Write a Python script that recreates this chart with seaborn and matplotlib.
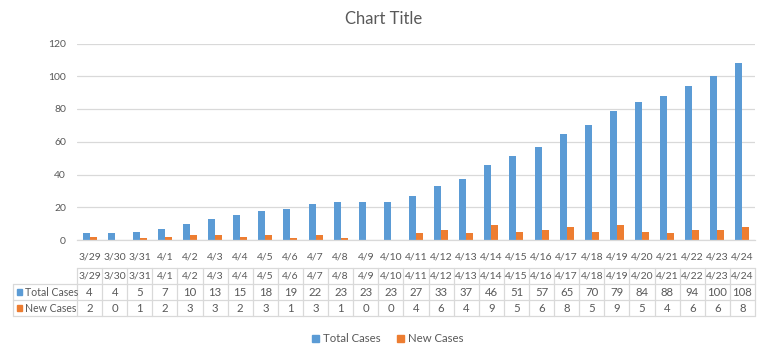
import numpy as np
import pandas as pd
import matplotlib
matplotlib.use("Agg")
import matplotlib.pyplot as plt
import seaborn as sns
from matplotlib.patches import Rectangle

dates = ["3/29", "3/30", "3/31", "4/1", "4/2", "4/3", "4/4", "4/5", "4/6", "4/7",
         "4/8", "4/9", "4/10", "4/11", "4/12", "4/13", "4/14", "4/15", "4/16", "4/17",
         "4/18", "4/19", "4/20", "4/21", "4/22", "4/23", "4/24"]
total_cases = [4, 4, 5, 7, 10, 13, 15, 18, 19, 22, 23, 23, 23, 27, 33, 37, 46, 51,
               57, 65, 70, 79, 84, 88, 94, 100, 108]
new_cases = [2, 0, 1, 2, 3, 3, 2, 3, 1, 3, 1, 0, 0, 4, 6, 4, 9, 5, 6, 8, 5, 9, 5,
             4, 6, 6, 8]
series_names = ["Total Cases", "New Cases"]
colors = ["#5B9BD5", "#ED7D31"]
y_ticks = [0, 20, 40, 60, 80, 100, 120]

sns.set_theme(style="white")
plt.rcParams["font.family"] = ["Lato", "DejaVu Sans"]

TXT = "#595959"
GRID = "#D9D9D9"
FS = 8.2
FSD = 7.5

W, H = 768, 356
fig = plt.figure(figsize=(W / 100, H / 100), dpi=100)

def px_rect(x0, y0, x1, y1):
    return [x0 / W, 1 - y1 / H, (x1 - x0) / W, (y1 - y0) / H]

# main plot area
ax = fig.add_axes(px_rect(77, 43.5, 755, 240))
df = pd.DataFrame({
    "date": dates * 2,
    "value": total_cases + new_cases,
    "series": [series_names[0]] * len(dates) + [series_names[1]] * len(dates),
})
sns.barplot(data=df, x="date", y="value", hue="series", order=dates,
            hue_order=series_names, palette=colors, width=0.56, ax=ax,
            legend=False, saturation=1, linewidth=0)
n = len(dates)
ax.set_xlim(-0.5, n - 0.5)
ax.set_ylim(0, 120)
ax.set_yticks(y_ticks)
ax.yaxis.grid(True, color=GRID, linewidth=0.9)
ax.set_axisbelow(True)
for s in ["top", "right", "left"]:
    ax.spines[s].set_visible(False)
ax.spines["bottom"].set_color(GRID)
ax.spines["bottom"].set_linewidth(0.9)
ax.set_xlabel("")
ax.set_ylabel("")
ax.tick_params(axis="y", length=0, labelsize=FSD, labelcolor=TXT, pad=8)
ax.set_xticks(range(n))
ax.set_xticklabels(dates)
ax.tick_params(axis="x", which="major", length=0, labelsize=FSD,
               labelcolor=TXT, pad=9)
ax.set_xticks(np.arange(-0.5, n, 1.0), minor=True)
ax.tick_params(axis="x", which="minor", length=3.6, color=GRID, width=0.9)

fig.text(384 / W, 1 - 19 / H, "Chart Title", ha="center", va="center",
         fontsize=12, color=TXT)

# data table
lab_units = (77 - 12.7) / ((755 - 77) / n)
tax = fig.add_axes(px_rect(12.7, 268, 755, 316))
tax.set_xlim(-0.5 - lab_units, n - 0.5)
tax.set_ylim(3, 0)
tax.axis("off")
lc = dict(color=GRID, linewidth=0.9, clip_on=False)
tax.plot([-0.5, n - 0.5], [0, 0], **lc)
tax.plot([-0.5 - lab_units, n - 0.5], [1, 1], **lc)
tax.plot([-0.5 - lab_units, n - 0.5], [2, 2], **lc)
tax.plot([-0.5 - lab_units, n - 0.5], [3, 3], **lc)
tax.plot([-0.5 - lab_units, -0.5 - lab_units], [1, 3], **lc)
for k in range(n + 1):
    tax.plot([k - 0.5, k - 0.5], [0, 3], **lc)
for i, d in enumerate(dates):
    tax.text(i, 0.52, d, ha="center", va="center", fontsize=FSD, color=TXT)
    tax.text(i, 1.52, str(total_cases[i]), ha="center", va="center",
             fontsize=FS, color=TXT)
    tax.text(i, 2.52, str(new_cases[i]), ha="center", va="center",
             fontsize=FS, color=TXT)
unit_px = (755 - 77) / n
sq = 5 / unit_px
for r, (name, col) in enumerate(zip(series_names, colors)):
    x0 = -0.5 - lab_units + 4.5 / unit_px
    tax.add_patch(Rectangle((x0, r + 1.5 - 0.16), sq, 0.32, color=col,
                            clip_on=False))
    tax.text(x0 + sq + 2.5 / unit_px, r + 1.52, name, ha="left", va="center",
             fontsize=7.6, color=TXT)

# bottom legend
handles = [Rectangle((0, 0), 1, 1, color=c) for c in colors]
fig.legend(handles, series_names, loc="center", bbox_to_anchor=(388 / W, 1 - 339 / H),
           ncol=2, frameon=False, fontsize=FS, labelcolor=TXT,
           handlelength=0.6, handleheight=0.6, handletextpad=0.4,
           columnspacing=1.4)

fig.savefig("out.png", dpi=100, facecolor="white")
